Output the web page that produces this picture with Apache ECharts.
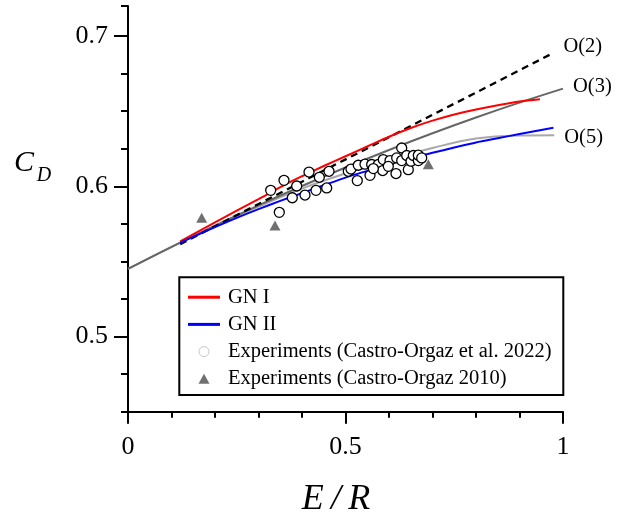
<!DOCTYPE html>
<html>
<head>
<meta charset="utf-8">
<script src="https://cdn.jsdelivr.net/npm/echarts@6/dist/echarts.min.js"></script>
<style>html,body{margin:0;padding:0;background:#fff}#c{width:620px;height:516px}</style>
</head>
<body>
<div id="c"></div>
<script>
// ---- data ----
const xTickLabels = [0, 0.5, 1];
const yTickLabels = [0.5, 0.6, 0.7];

const gn1X = [0.12,0.2,0.3,0.36,0.4,0.45,0.5,0.55,0.6,0.65,0.7,0.75,0.8,0.85,0.9,0.947];
const gn1Y = [0.5633,0.576,0.5915,0.601,0.6067,0.6135,0.62,0.6265,0.633,0.6388,0.6437,0.6478,0.6511,0.654,0.6565,0.658];

const gn2X = [0.12,0.2,0.25,0.3,0.35,0.4,0.45,0.5,0.55,0.6,0.65,0.7,0.75,0.8,0.85,0.9,0.95,0.978];
const gn2Y = [0.5625,0.5728,0.579,0.5848,0.5903,0.5955,0.6007,0.6058,0.6103,0.6147,0.6188,0.6223,0.6258,0.6292,0.632,0.6348,0.6375,0.6389];

const o2X = [0.12, 0.978];
const o2Y = [0.5615, 0.6888];

const o3X = [0,0.1,0.2,0.3,0.4,0.5,0.6,0.7,0.8,0.9,1.0];
const o3Y = [0.545,0.5597,0.5738,0.5873,0.6002,0.6125,0.6242,0.6353,0.6458,0.6557,0.665];

const o5X = [0,0.1,0.2,0.3,0.4,0.5,0.6,0.7,0.8,0.9,0.98];
const o5Y = [0.545,0.5595,0.5735,0.5865,0.5985,0.6085,0.6175,0.6255,0.6318,0.6338,0.634];

const exp2022X = [0.328,0.3586,0.3478,0.3878,0.3777,0.4069,0.4161,0.4322,0.4398,0.4568,0.4621,0.5064,0.5126,0.5271,0.5294,0.5448,0.5563,0.5602,0.5754,0.5869,0.5855,0.6023,0.5984,0.6161,0.6177,0.6292,0.6292,0.6407,0.6444,0.6506,0.6559,0.6674,0.6674,0.6752,0.564];
const exp2022Y = [0.5973,0.604,0.5827,0.6002,0.5924,0.5942,0.6095,0.5973,0.606,0.5989,0.61,0.61,0.6115,0.6038,0.614,0.6147,0.6073,0.6145,0.6145,0.6178,0.6105,0.6171,0.6133,0.6085,0.6189,0.6255,0.6171,0.6205,0.6111,0.6167,0.6205,0.6171,0.6207,0.6189,0.6118];

const exp2010X = [0.1694, 0.3379, 0.6904];
const exp2010Y = [0.5791, 0.574, 0.6147];

const zip = (a, b) => a.map((v, i) => [v, b[i]]);
const FONT = 'Liberation Serif';

const chart = echarts.init(document.getElementById('c'), null, {renderer: 'canvas'});
const endLab = (txt, dy) => ({
  show: true, formatter: txt, fontFamily: FONT, fontSize: 20.5, color: '#000',
  distance: 10, offset: [0, dy]
});
const LINE_ICON = 'path://M0,0 L32,0 L32,3 L0,3 Z';
const TRI_ICON = 'path://M5.5,0 L11,10 L0,10 Z';

chart.setOption({
  animation: false,
  backgroundColor: '#fff',
  grid: {left: 128, right: 57, top: 6, bottom: 104.3, outerBoundsMode: 'none', containLabel: false},
  xAxis: {
    type: 'value', min: 0, max: 1, interval: 0.5,
    axisLine: {show: true, lineStyle: {color: '#000', width: 2}},
    axisTick: {show: true, length: 12, lineStyle: {color: '#000', width: 2}},
    minorTick: {show: true, splitNumber: 5, length: 6, lineStyle: {color: '#000', width: 2}},
    splitLine: {show: false}, minorSplitLine: {show: false},
    axisLabel: {
      customValues: xTickLabels, margin: 22, color: '#000', fontFamily: FONT, fontSize: 26,
      formatter: v => String(v)
    },
    name: 'E\u2009/\u2009R', nameLocation: 'middle', nameGap: 70,
    nameTextStyle: {fontFamily: FONT, fontStyle: 'italic', fontSize: 36, color: '#000', padding: [0, 19, 0, 0]}
  },
  yAxis: [{
    type: 'value', min: 0.45, max: 0.72,
    axisLine: {show: true, lineStyle: {color: '#000', width: 2}},
    axisTick: {show: true, customValues: yTickLabels, length: 14, lineStyle: {color: '#000', width: 2}},
    splitLine: {show: false},
    axisLabel: {
      customValues: yTickLabels, margin: 20, color: '#000', fontFamily: FONT, fontSize: 26,
      formatter: v => String(v)
    }
  }, {
    type: 'value', min: 0.45, max: 0.72, interval: 0.025, position: 'left',
    axisLine: {show: false},
    axisTick: {show: true, length: 7, lineStyle: {color: '#000', width: 2}},
    axisLabel: {show: false},
    splitLine: {show: false}
  }],
  legend: {
    data: [
      {name: 'GN I', icon: LINE_ICON, itemStyle: {color: '#ff0000', borderWidth: 0}},
      {name: 'GN II', icon: LINE_ICON, itemStyle: {color: '#0000ff', borderWidth: 0}},
      {name: 'Experiments (Castro-Orgaz et al. 2022)', icon: 'circle',
        itemStyle: {color: '#fff', borderColor: '#c8c8c8', borderWidth: 1}},
      {name: 'Experiments (Castro-Orgaz 2010)', icon: TRI_ICON,
        itemStyle: {color: '#707070', borderWidth: 0}}
    ],
    orient: 'vertical', left: 188, top: 286.7, padding: 0,
    itemWidth: 32, itemHeight: 10, itemGap: 6.2,
    symbolKeepAspect: true,
    selectedMode: false,
    textStyle: {fontFamily: FONT, fontSize: 20.5, lineHeight: 20, color: '#000', padding: [0, 0, 0, 3]}
  },
  graphic: [
    {type: 'rect', shape: {x: 179.3, y: 277.3, width: 384, height: 117.7},
      style: {fill: 'none', stroke: '#000', lineWidth: 2}, z: 10},
    {type: 'text', x: 24, y: 163, style: {text: 'C', fontFamily: FONT, fontStyle: 'italic', fontSize: 30,
      fill: '#000', align: 'center', verticalAlign: 'middle'}},
    {type: 'text', x: 44, y: 176, style: {text: 'D', fontFamily: FONT, fontStyle: 'italic', fontSize: 20,
      fill: '#000', align: 'center', verticalAlign: 'middle'}}
  ],
  series: [
    {name: 'O(5)', type: 'line', data: zip(o5X, o5Y), showSymbol: false, symbol: 'none', smooth: 0.4,
      lineStyle: {color: '#a8a8a8', width: 2}, endLabel: endLab('O(5)', 2), z: 2},
    {name: 'O(3)', type: 'line', data: zip(o3X, o3Y), showSymbol: false, symbol: 'none', smooth: 0.4,
      lineStyle: {color: '#666666', width: 2}, endLabel: endLab('O(3)', -2), z: 3},
    {name: 'O(2)', type: 'line', data: zip(o2X, o2Y), showSymbol: false, symbol: 'none',
      lineStyle: {color: '#000', width: 2.3, type: [7, 5]}, endLabel: endLab('O(2)', -6), z: 3},
    {name: 'GN I', type: 'line', data: zip(gn1X, gn1Y), showSymbol: false, symbol: 'none', smooth: 0.3,
      lineStyle: {color: '#ff0000', width: 2}, itemStyle: {color: '#ff0000'}, z: 4},
    {name: 'GN II', type: 'line', data: zip(gn2X, gn2Y), showSymbol: false, symbol: 'none', smooth: 0.3,
      lineStyle: {color: '#0000ff', width: 2}, itemStyle: {color: '#0000ff'}, z: 4},
    {name: 'Experiments (Castro-Orgaz et al. 2022)', type: 'scatter', data: zip(exp2022X, exp2022Y),
      symbol: 'circle', symbolSize: 10,
      itemStyle: {color: '#fff', borderColor: '#000', borderWidth: 1.3, opacity: 1}, z: 6},
    {name: 'Experiments (Castro-Orgaz 2010)', type: 'scatter', data: zip(exp2010X, exp2010Y),
      symbol: 'triangle', symbolSize: [11, 10],
      itemStyle: {color: '#707070', opacity: 1}, z: 6}
  ]
});
</script>
</body>
</html>
